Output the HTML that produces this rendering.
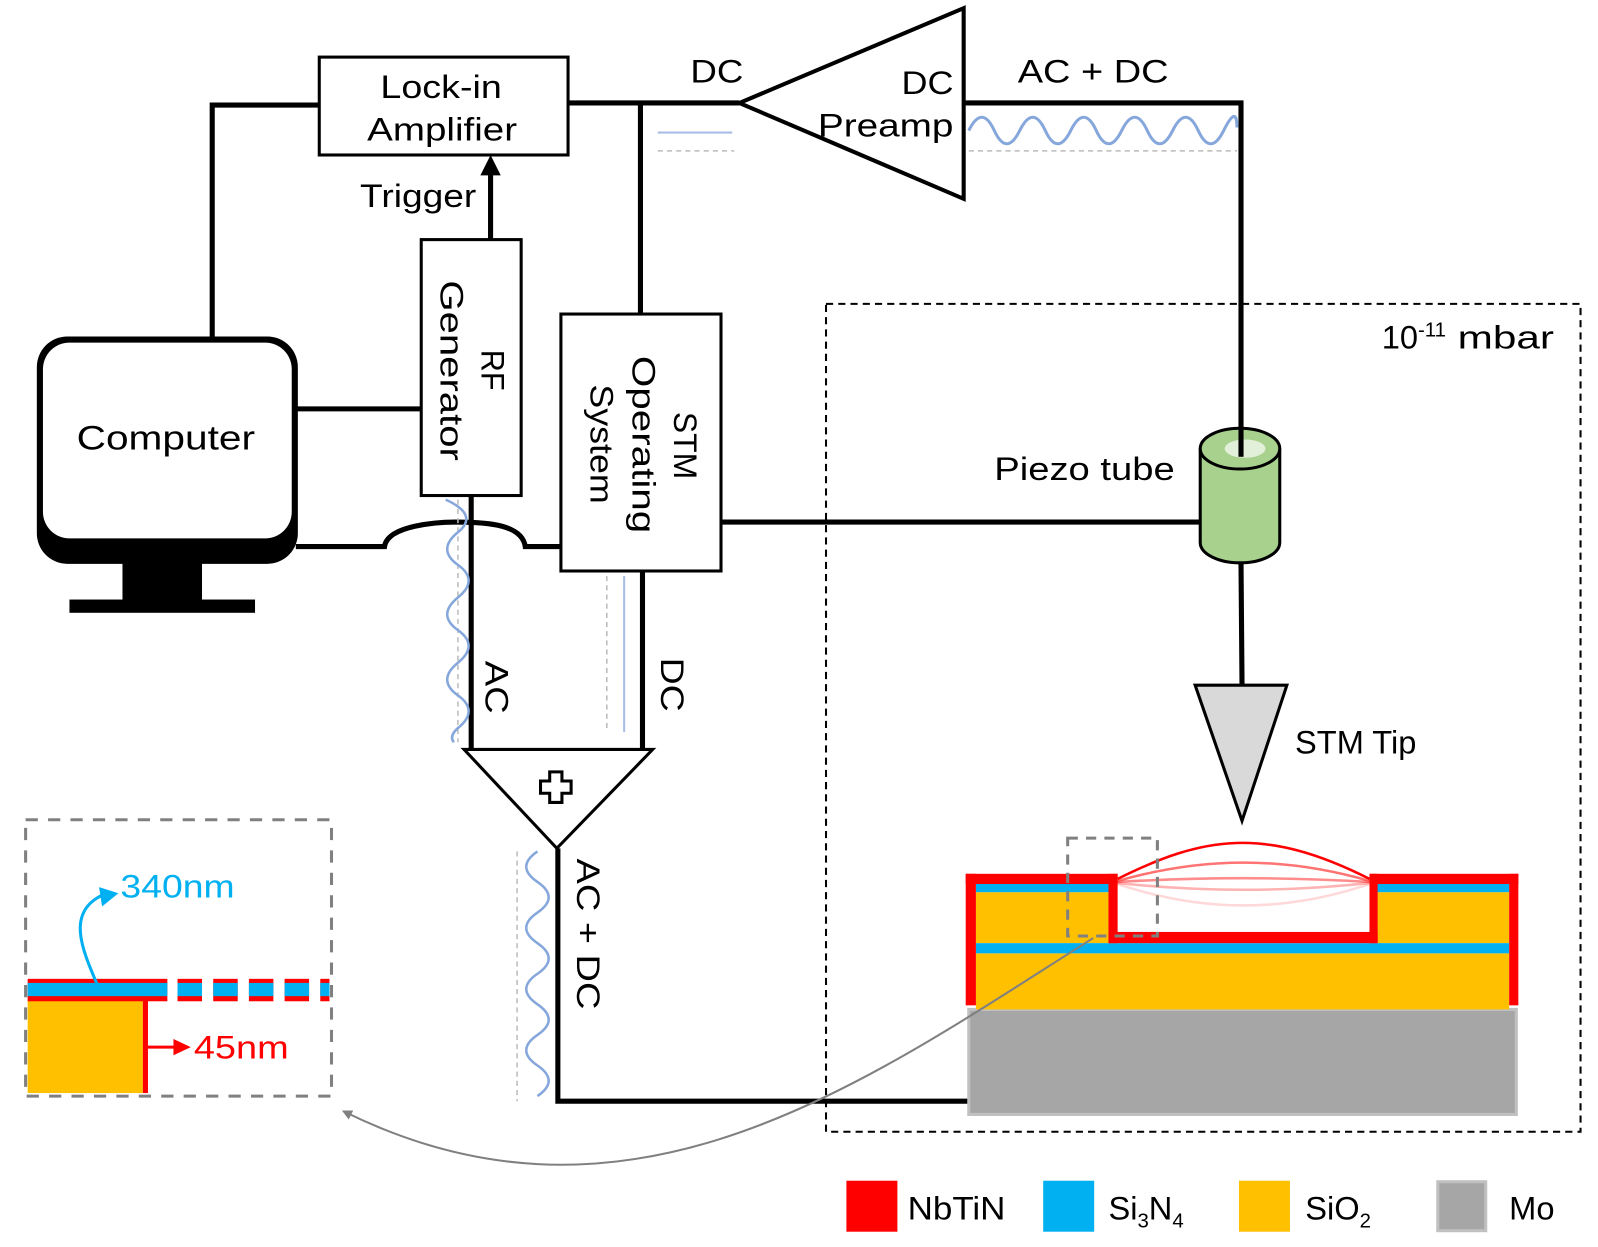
<!DOCTYPE html>
<html><head><meta charset="utf-8"><style>
html,body{margin:0;padding:0;background:#fff;}
svg{display:block;}
text{font-family:"Liberation Sans",sans-serif;fill:#000;}
</style></head><body>
<svg width="1598" height="1247" viewBox="0 0 1567 1223" xmlns="http://www.w3.org/2000/svg">
<defs>
<marker id="ah" markerWidth="10" markerHeight="10" refX="8" refY="5" orient="auto" markerUnits="userSpaceOnUse"><path d="M0,0 L10,5 L0,10 z" fill="#808080"/></marker>
</defs>
<!-- vacuum box -->
<rect x="810" y="298" width="740" height="812" fill="none" stroke="#000" stroke-width="2" stroke-dasharray="7,5"/>
<text x="1355" y="342" font-size="32">10<tspan font-size="20" dy="-12">-11</tspan><tspan dy="12" textLength="106" lengthAdjust="spacingAndGlyphs"> mbar</tspan></text>

<!-- wires -->
<g stroke="#000" stroke-width="5" fill="none">
<polyline points="208,330 208,103 313,103"/>
<line x1="557" y1="101" x2="725" y2="101"/>
<line x1="628" y1="101" x2="628" y2="308"/>
<polyline points="945,101 1217,101 1217,445"/>
<line x1="290" y1="401" x2="413" y2="401"/>
<path d="M290,536 H377 C380,515 430,512 447,512 C480,512 512,515 515,536 H550"/>
<line x1="462" y1="486" x2="462" y2="735"/>
<line x1="630" y1="560" x2="630" y2="735"/>
<polyline points="547,832 547,1080 950,1080"/>
<line x1="707" y1="512" x2="1177" y2="512"/>
<line x1="1217" y1="552" x2="1218" y2="672"/>
<line x1="481" y1="235" x2="481" y2="170"/>
</g>
<path d="M471,172 L481,152 L491,172 z" fill="#000"/>

<!-- signal hints -->
<line x1="645" y1="130" x2="718" y2="130" stroke="#a9bde6" stroke-width="2"/>
<line x1="645" y1="148" x2="720" y2="148" stroke="#bbb" stroke-width="1.5" stroke-dasharray="5,4"/>
<line x1="950" y1="148" x2="1213" y2="148" stroke="#bbb" stroke-width="1.5" stroke-dasharray="5,4"/>
<path d="M950,128 Q963,102 975,128 T1000,128 T1025,128 T1050,128 T1075,128 T1100,128 T1125,128 T1150,128 T1175,128 T1200,128 T1213,125" fill="none" stroke="#86a7dc" stroke-width="3"/>
<line x1="449" y1="490" x2="449" y2="728" stroke="#bbb" stroke-width="1.5" stroke-dasharray="5,4"/>
<path d="M437,490 Q470,505 449,522 T449,554 T449,586 T449,618 T449,650 T449,682 T449,714 Q440,722 445,728" fill="none" stroke="#86a7dc" stroke-width="2.5"/>
<line x1="595" y1="565" x2="595" y2="718" stroke="#bbb" stroke-width="1.5" stroke-dasharray="5,4"/>
<line x1="612" y1="565" x2="612" y2="718" stroke="#a9bde6" stroke-width="2"/>
<line x1="507" y1="835" x2="507" y2="1080" stroke="#bbb" stroke-width="1.5" stroke-dasharray="5,4"/>
<path d="M527,835 Q505,850 527,865 T527,895 T527,925 T527,955 T527,985 T527,1015 T527,1045 T527,1075" fill="none" stroke="#86a7dc" stroke-width="2.5"/>

<!-- computer -->
<rect x="36" y="330" width="256" height="223" rx="30" fill="#000"/>
<rect x="42" y="336" width="244" height="192" rx="26" fill="#fff"/>
<rect x="120" y="552" width="78" height="37" fill="#000"/>
<rect x="68" y="588" width="182" height="13" fill="#000"/>
<text x="75" y="441" font-size="34" textLength="175" lengthAdjust="spacingAndGlyphs">Computer</text>

<!-- lock-in -->
<rect x="313" y="56" width="244" height="96" fill="#fff" stroke="#000" stroke-width="3"/>
<text x="373" y="96" font-size="32" textLength="119" lengthAdjust="spacingAndGlyphs">Lock-in</text>
<text x="360" y="138" font-size="32" textLength="147" lengthAdjust="spacingAndGlyphs">Amplifier</text>
<text x="353" y="203" font-size="32" textLength="114" lengthAdjust="spacingAndGlyphs">Trigger</text>

<!-- RF gen -->
<rect x="413" y="235" width="98" height="251" fill="#fff" stroke="#000" stroke-width="3"/>
<g transform="translate(462,0) rotate(90)" font-size="32">
<text x="343" y="-10" textLength="40" lengthAdjust="spacingAndGlyphs">RF</text>
<text x="275" y="30" textLength="177" lengthAdjust="spacingAndGlyphs">Generator</text>
</g>
<!-- STM OS -->
<rect x="550" y="308" width="157" height="252" fill="#fff" stroke="#000" stroke-width="3"/>
<g transform="translate(628,0) rotate(90)" font-size="32">
<text x="404" y="-33" textLength="66" lengthAdjust="spacingAndGlyphs">STM</text>
<text x="349" y="8" textLength="174" lengthAdjust="spacingAndGlyphs">Operating</text>
<text x="377" y="49" textLength="117" lengthAdjust="spacingAndGlyphs">System</text>
</g>

<!-- preamp -->
<path d="M725,101 L945,8 L945,195 z" fill="#fff" stroke="#000" stroke-width="4"/>
<text x="884" y="92" font-size="32" textLength="51" lengthAdjust="spacingAndGlyphs">DC</text>
<text x="802" y="134" font-size="32" textLength="133" lengthAdjust="spacingAndGlyphs">Preamp</text>
<text x="677" y="81" font-size="32" textLength="52" lengthAdjust="spacingAndGlyphs">DC</text>
<text x="998" y="81" font-size="32" textLength="148" lengthAdjust="spacingAndGlyphs">AC + DC</text>

<!-- summer -->
<path d="M455,735 L640,735 L546,832 z" fill="#fff" stroke="#000" stroke-width="3"/>
<path d="M539,757 h12 v9 h9 v12 h-9 v9 h-12 v-9 h-9 v-12 h9 z" fill="#fff" stroke="#000" stroke-width="3"/>
<text transform="translate(476,0) rotate(90)" x="648" y="0" font-size="32" textLength="52" lengthAdjust="spacingAndGlyphs">AC</text>
<text transform="translate(648,0) rotate(90)" x="645" y="0" font-size="32" textLength="53" lengthAdjust="spacingAndGlyphs">DC</text>
<text transform="translate(566,0) rotate(90)" x="842" y="0" font-size="32" textLength="148" lengthAdjust="spacingAndGlyphs">AC + DC</text>

<!-- piezo -->
<path d="M1177,440 V532 A39,20 0 0 0 1255,532 V440" fill="#a9d18e" stroke="#000" stroke-width="3"/>
<ellipse cx="1216" cy="440" rx="39" ry="20" fill="#a9d18e" stroke="#000" stroke-width="3"/>
<ellipse cx="1221" cy="440" rx="20" ry="9" fill="#e2efd9"/>
<line x1="1217" y1="420" x2="1217" y2="448" stroke="#000" stroke-width="5"/>
<text x="975" y="471" font-size="32" textLength="177" lengthAdjust="spacingAndGlyphs">Piezo tube</text>
<!-- tip -->
<path d="M1172,672 L1262,672 L1218,805 z" fill="#d9d9d9" stroke="#000" stroke-width="3"/>
<text x="1270" y="739" font-size="32" textLength="119" lengthAdjust="spacingAndGlyphs">STM Tip</text>

<!-- sample -->
<rect x="950" y="990" width="537" height="103" fill="#a6a6a6" stroke="#c0c0c0" stroke-width="3"/>
<rect x="957" y="875" width="130" height="50" fill="#ffc000"/>
<rect x="1350" y="875" width="130" height="50" fill="#ffc000"/>
<rect x="957" y="935" width="523" height="55" fill="#ffc000"/>
<rect x="957" y="866" width="130" height="9" fill="#00b0f0"/>
<rect x="1350" y="866" width="130" height="9" fill="#00b0f0"/>
<rect x="957" y="925" width="523" height="10" fill="#00b0f0"/>
<g fill="#ff0000">
<rect x="947" y="857" width="10" height="129"/>
<rect x="947" y="857" width="149" height="10"/>
<rect x="1087" y="857" width="9" height="68"/>
<rect x="1087" y="914" width="264" height="11"/>
<rect x="1343" y="857" width="8" height="68"/>
<rect x="1343" y="857" width="146" height="10"/>
<rect x="1480" y="857" width="9" height="129"/>
</g>
<g fill="none" stroke="#ff0000" stroke-width="2.5">
<path d="M1096,862 C1180,820 1240,810 1343,862"/>
<path d="M1096,864 C1180,840 1260,840 1343,864" stroke-opacity="0.55"/>
<path d="M1096,865 C1180,860 1260,860 1343,865" stroke-opacity="0.45"/>
<path d="M1096,866 C1180,875 1260,875 1343,866" stroke-opacity="0.3"/>
<path d="M1096,867 C1180,895 1260,895 1343,867" stroke-opacity="0.15"/>
</g>
<rect x="1047" y="822" width="88" height="96" fill="none" stroke="#808080" stroke-width="3" stroke-dasharray="10,8"/>
<path d="M1072,920 C850,1060 620,1230 337,1090" fill="none" stroke="#808080" stroke-width="2" marker-end="url(#ah)"/>

<!-- inset -->
<rect x="25" y="804" width="300" height="271" fill="#fff" stroke="#808080" stroke-width="3" stroke-dasharray="12,10"/>
<rect x="27" y="977" width="113" height="95" fill="#ffc000"/>
<rect x="140" y="977" width="5" height="95" fill="#ff0000"/>
<rect x="27" y="960" width="137" height="22" fill="#ff0000"/>
<rect x="27" y="964" width="137" height="13" fill="#00b0f0"/>
<g>
<rect x="174" y="960" width="24" height="22" fill="#ff0000"/><rect x="174" y="964" width="24" height="13" fill="#00b0f0"/>
<rect x="209" y="960" width="24" height="22" fill="#ff0000"/><rect x="209" y="964" width="24" height="13" fill="#00b0f0"/>
<rect x="244" y="960" width="24" height="22" fill="#ff0000"/><rect x="244" y="964" width="24" height="13" fill="#00b0f0"/>
<rect x="279" y="960" width="24" height="22" fill="#ff0000"/><rect x="279" y="964" width="24" height="13" fill="#00b0f0"/>
<rect x="314" y="960" width="9" height="22" fill="#ff0000"/><rect x="314" y="964" width="9" height="13" fill="#00b0f0"/>
</g>
<path d="M95,965 C80,930 65,895 100,878" fill="none" stroke="#00b0f0" stroke-width="3"/>
<path d="M97,870 L116,876 L100,889 z" fill="#00b0f0"/>
<text x="118" y="880" font-size="32" style="fill:#00b0f0" textLength="112" lengthAdjust="spacingAndGlyphs">340nm</text>
<line x1="145" y1="1027" x2="172" y2="1027" stroke="#ff0000" stroke-width="3"/>
<path d="M170,1019 L187,1027 L170,1035 z" fill="#ff0000"/>
<text x="190" y="1038" font-size="32" style="fill:#ff0000" textLength="93" lengthAdjust="spacingAndGlyphs">45nm</text>

<!-- legend -->
<rect x="830" y="1158" width="50" height="50" fill="#ff0000"/>
<text x="890" y="1196" font-size="32" textLength="96" lengthAdjust="spacingAndGlyphs">NbTiN</text>
<rect x="1023" y="1158" width="50" height="50" fill="#00b0f0"/>
<text x="1087" y="1196" font-size="32">Si<tspan font-size="20" dy="8">3</tspan><tspan dy="-8">N</tspan><tspan font-size="20" dy="8">4</tspan></text>
<rect x="1215" y="1158" width="50" height="50" fill="#ffc000"/>
<text x="1280" y="1196" font-size="32">SiO<tspan font-size="20" dy="8">2</tspan></text>
<rect x="1410" y="1159" width="47" height="48" fill="#a6a6a6" stroke="#c0c0c0" stroke-width="3"/>
<text x="1480" y="1196" font-size="32">Mo</text>
</svg>
</body></html>
